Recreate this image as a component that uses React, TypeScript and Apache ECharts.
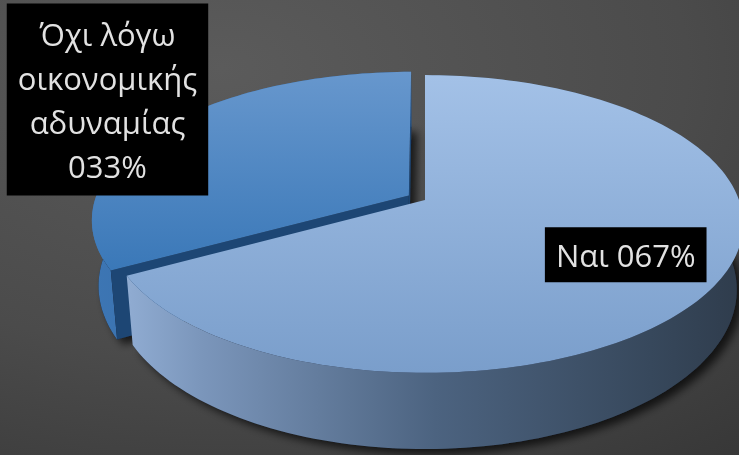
import React, { useEffect, useRef } from "react";
import * as echarts from "echarts";

// ---- data ----
const categories: string[] = ["Ναι", "Όχι λόγω οικονομικής αδυναμίας"];
const values: number[] = [67, 33];

const W = 739;
const H = 455;

function pctLabel(v: number, total: number): string {
  const p = Math.round((v / total) * 100);
  return String(p).padStart(3, "0") + "%";
}

function wrapWords(text: string, maxChars: number): string {
  const words = text.split(" ");
  const lines: string[] = [];
  let cur = "";
  words.forEach((w) => {
    if (!cur) cur = w;
    else if ((cur + " " + w).length <= maxChars) cur += " " + w;
    else {
      lines.push(cur);
      cur = w;
    }
  });
  if (cur) lines.push(cur);
  return lines.join("\n");
}

export default function App() {
  const ref = useRef<HTMLDivElement>(null);

  useEffect(() => {
    if (!ref.current) return;
    const chart = echarts.init(ref.current, null, { renderer: "svg" });

    const total = values.reduce((a, b) => a + b, 0);
    const starts: number[] = [];
    let acc = 0;
    values.forEach((v) => {
      starts.push(acc);
      acc += v;
    });

    // projection parameters (layout)
    const cx = 425;
    const cy = 200;
    const RA = 314;
    const RB = 145;
    const K = 0.161;
    const TH = 64;
    const BX = 0.98;
    const CAM = 6;
    const proj = (u: number, v: number, bottom: boolean): number[] => {
      const s = 1 / (1 - K * v);
      let x = cx + RA * u * s;
      let y = cy + RB * v * s;
      if (bottom) {
        x = cx + (x - cx) * BX;
        y += TH * s;
      }
      return [x, y];
    };

    const sideColors = [
      [
        { offset: 0, color: "#90acd2" },
        { offset: 0.12, color: "#7b96bb" },
        { offset: 0.5, color: "#4c6380" },
        { offset: 0.85, color: "#37485c" },
        { offset: 1, color: "#2f3c4c" },
      ],
      [
        { offset: 0, color: "#3d76b4" },
        { offset: 1, color: "#2d5f99" },
      ],
    ];
    const topColors = [
      [
        { offset: 0, color: "#a3c1e7" },
        { offset: 1, color: "#7a9ecb" },
      ],
      [
        { offset: 0, color: "#6797cd" },
        { offset: 1, color: "#3a78b8" },
      ],
    ];
    const faceColors = ["#5d7699", "#1d4674"];

    const renderItem = (params: any, api: any) => {
      const i = params.dataIndex;
      const val = api.value(0);
      const frac0 = starts[i] / total;
      const frac1 = (starts[i] + val) / total;
      const t0 = frac0 * Math.PI * 2;
      const t1 = frac1 * Math.PI * 2;
      const tm = (t0 + t1) / 2;
      const isMajor = val / total > 0.5;
      const ex = isMajor ? 0 : 0.06;
      const ou = ex * Math.sin(tm);
      const ov = -ex * Math.cos(tm);
      const depth = -Math.cos(tm);
      const base = Math.round((depth + 1) * 50);

      const n = Math.max(2, Math.ceil(((t1 - t0) * 180) / Math.PI / 1.5));
      const topArc: number[][] = [];
      const botArc: number[][] = [];
      for (let j = 0; j <= n; j++) {
        const t = t0 + ((t1 - t0) * j) / n;
        const u = ou + Math.sin(t);
        const v = ov - Math.cos(t);
        topArc.push(proj(u, v, false));
        botArc.push(proj(u, v, true));
      }
      const apexT = proj(ou, ov, false);
      const apexB = proj(ou, ov, true);

      const children: any[] = [];
      // drop shadow (bottom face)
      children.push({
        type: "polygon",
        z2: base,
        shape: { points: [apexB, ...botArc] },
        style: {
          fill: "#1b2330",
          shadowBlur: 8,
          shadowOffsetX: 6,
          shadowOffsetY: 5,
          shadowColor: "rgba(0,0,0,0.7)",
        },
      });
      // outer side
      children.push({
        type: "polygon",
        z2: base + 1,
        shape: { points: [...topArc, ...botArc.slice().reverse()] },
        style: {
          fill: {
            type: "linear",
            x: 0,
            y: 0,
            x2: 1,
            y2: 0,
            colorStops: sideColors[i % sideColors.length],
          },
        },
      });
      // cut faces (only those facing the viewer)
      [
        { j: 0, t: t0, sign: -1 },
        { j: n, t: t1, sign: 1 },
      ].forEach(({ j, t, sign }) => {
        const nu = sign * Math.cos(t);
        const nv = sign * Math.sin(t);
        const mu = ou + 0.5 * Math.sin(t);
        const mv = ov - 0.5 * Math.cos(t);
        const dot = nu * (0 - mu) + nv * (CAM - mv);
        if (dot <= 0) return;
        children.push({
          type: "polygon",
          z2: base + 2,
          shape: { points: [apexT, topArc[j], botArc[j], apexB] },
          style: { fill: faceColors[i % faceColors.length] },
        });
      });
      // top face
      children.push({
        type: "polygon",
        z2: base + 3,
        shape: { points: [apexT, ...topArc] },
        style: {
          fill: {
            type: "linear",
            x: 0,
            y: 0,
            x2: 0,
            y2: 1,
            colorStops: topColors[i % topColors.length],
          },
        },
      });

      // label
      const la = tm + (isMajor ? 0 : (4 * Math.PI) / 180);
      const lr = isMajor ? 0.7 : 1.32;
      const lp = proj(ou + lr * Math.sin(la), ov - lr * Math.cos(la), false);
      const raw = categories[i] + " " + pctLabel(val, total);
      const text = isMajor ? raw : wrapWords(raw, 11);
      children.push({
        type: "text",
        z2: 500,
        x: lp[0],
        y: lp[1],
        style: {
          text,
          fill: "#e2e2e2",
          fontFamily: "Open Sans",
          fontSize: 31,
          lineHeight: 44,
          align: "center",
          verticalAlign: "middle",
          backgroundColor: "#000000",
          padding: isMajor ? [6, 11, 5, 11] : [8, 11, 8, 11],
        },
      });

      return { type: "group", children };
    };

    chart.setOption({
      animation: false,
      backgroundColor: {
        type: "radial",
        x: 0.3,
        y: 0.15,
        r: 1.4,
        colorStops: [
          { offset: 0, color: "#5b5b5b" },
          { offset: 0.45, color: "#4b4b4b" },
          { offset: 1, color: "#2b2b2b" },
        ],
      },
      series: [
        {
          type: "custom",
          coordinateSystem: "none",
          renderItem,
          data: values.map((v, i) => ({ name: categories[i], value: v })),
        },
      ],
    });

    return () => chart.dispose();
  }, []);

  return (
    <div
      ref={ref}
      style={{ position: "fixed", left: 0, top: 0, width: W, height: H }}
    />
  );
}
